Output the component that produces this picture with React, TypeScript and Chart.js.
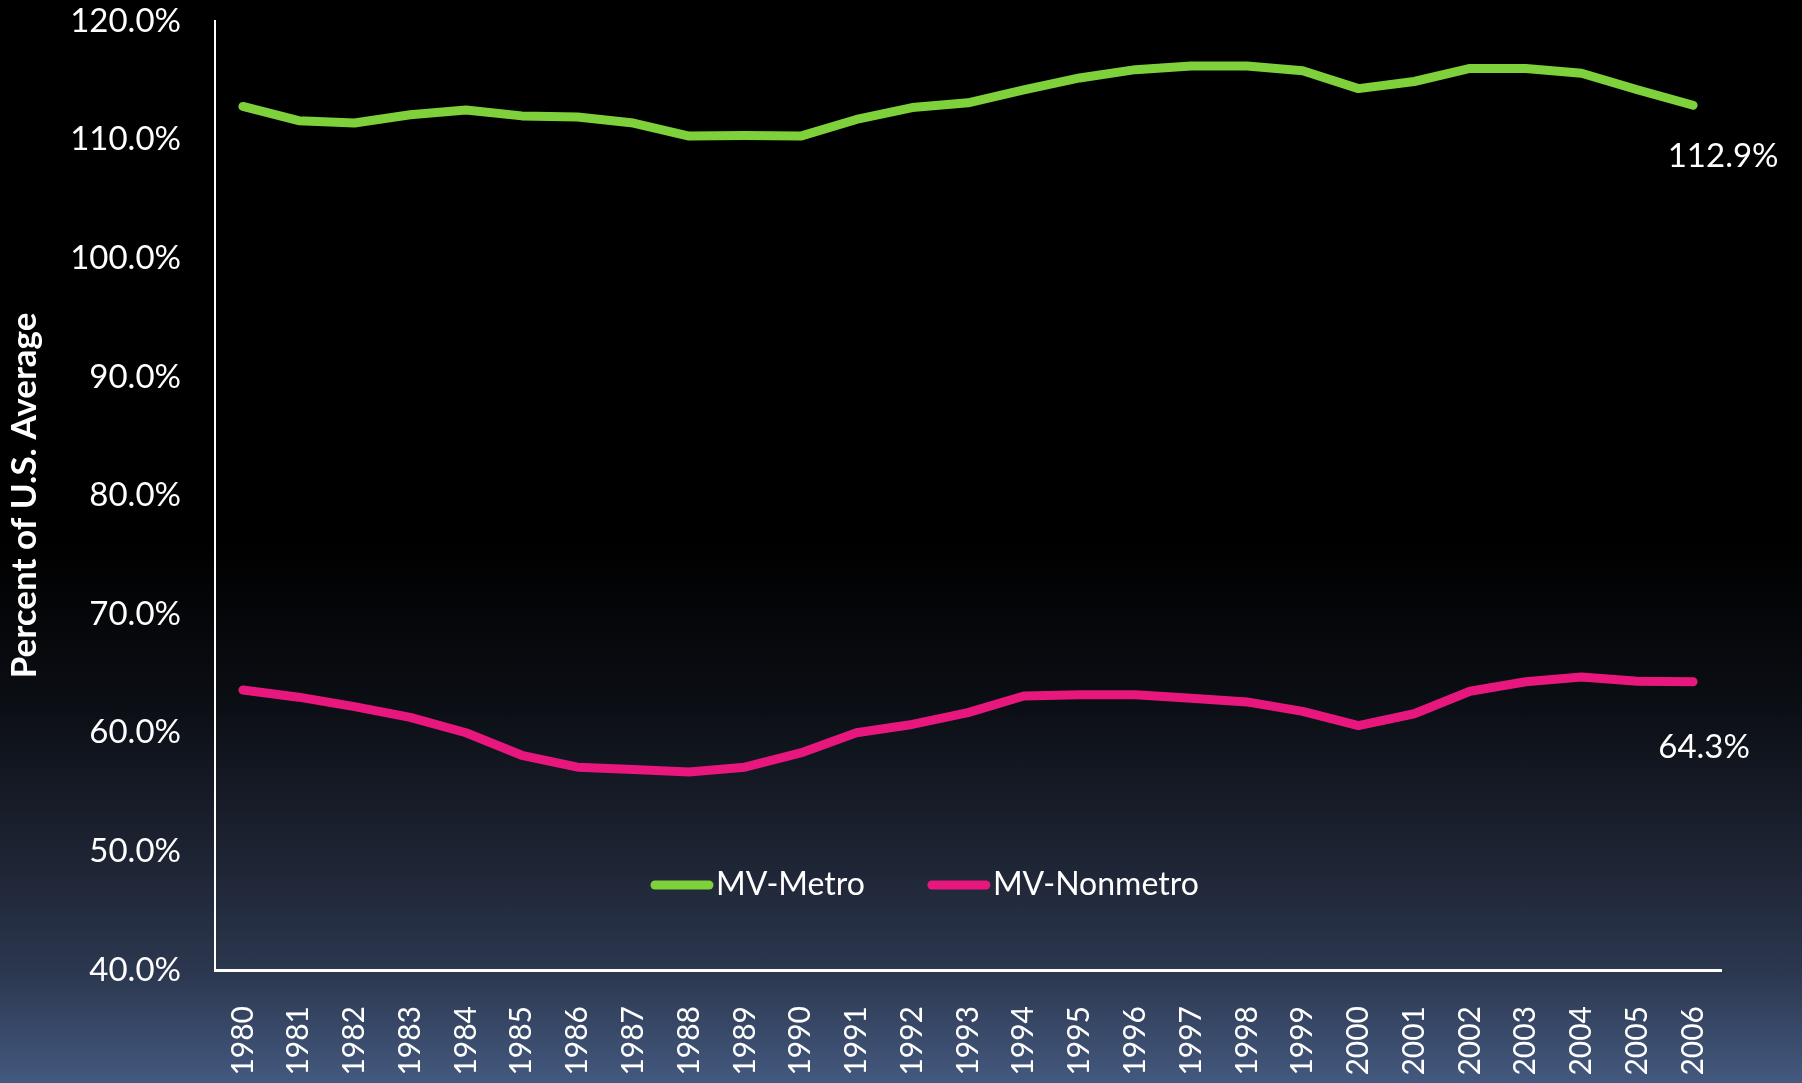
import React, { useEffect, useRef } from "react";
import { Chart, registerables } from "chart.js";

Chart.register(...registerables);

const YEARS = [
  "1980", "1981", "1982", "1983", "1984", "1985", "1986", "1987", "1988",
  "1989", "1990", "1991", "1992", "1993", "1994", "1995", "1996", "1997",
  "1998", "1999", "2000", "2001", "2002", "2003", "2004", "2005", "2006",
];

const METRO = [
  112.8, 111.6, 111.4, 112.1, 112.5, 112.0, 111.9, 111.4, 110.3, 110.35,
  110.3, 111.7, 112.7, 113.1, 114.2, 115.2, 115.9, 116.2, 116.2, 115.8,
  114.3, 114.9, 116.0, 116.0, 115.6, 114.2, 112.9,
];

const NONMETRO = [
  63.6, 63.0, 62.2, 61.3, 60.0, 58.1, 57.1, 56.9, 56.7, 57.1, 58.3, 60.0,
  60.7, 61.7, 63.1, 63.2, 63.2, 62.9, 62.6, 61.8, 60.6, 61.6, 63.5, 64.3,
  64.7, 64.35, 64.3,
];

const SERIES_LABELS = ["MV-Metro", "MV-Nonmetro"];
const SERIES_COLORS = ["#7ed13b", "#e8177e"];
const Y_MIN = 40;
const Y_MAX = 120;
const Y_STEP = 10;
const Y_TITLE = "Percent of U.S. Average";

const FONT = "Lato, 'Open Sans', 'DejaVu Sans', sans-serif";

// end-of-line value labels (offset from last point)
const END_LABEL_OFFSETS = [
  { dx: 30, dy: 51 },
  { dx: 11, dy: 66 },
];

const endLabelPlugin = {
  id: "endLabels",
  afterDatasetsDraw(chart: any) {
    const ctx = chart.ctx;
    ctx.save();
    ctx.font = `33px ${FONT}`;
    ctx.fillStyle = "#ffffff";
    ctx.textAlign = "center";
    ctx.textBaseline = "middle";
    chart.data.datasets.forEach((ds: any, i: number) => {
      const meta = chart.getDatasetMeta(i);
      const last = meta.data[meta.data.length - 1];
      if (!last) return;
      const v = ds.data[ds.data.length - 1];
      const off = END_LABEL_OFFSETS[i] || { dx: 0, dy: 0 };
      ctx.fillText(v.toFixed(1) + "%", last.x + off.dx, last.y + off.dy);
    });
    ctx.restore();
  },
};

const legendPlugin = {
  id: "innerLegend",
  afterDraw(chart: any) {
    const ctx = chart.ctx;
    const area = chart.chartArea;
    ctx.save();
    ctx.font = `32px ${FONT}`;
    ctx.textBaseline = "middle";
    ctx.textAlign = "left";
    let x = area.left + 440;
    const y = area.bottom - 85;
    chart.data.datasets.forEach((ds: any) => {
      ctx.strokeStyle = ds.borderColor;
      ctx.lineWidth = 9;
      ctx.lineCap = "round";
      ctx.beginPath();
      ctx.moveTo(x, y);
      ctx.lineTo(x + 54, y);
      ctx.stroke();
      ctx.fillStyle = "#ffffff";
      ctx.fillText(ds.label, x + 61, y);
      const w = ctx.measureText(ds.label).width;
      x += 61 + w + 67;
    });
    ctx.restore();
  },
};

export default function App() {
  const canvasRef = useRef<HTMLCanvasElement | null>(null);

  useEffect(() => {
    if (!canvasRef.current) return;
    const chart = new Chart(canvasRef.current, {
      type: "line",
      data: {
        labels: YEARS,
        datasets: [
          {
            label: SERIES_LABELS[0],
            data: METRO,
            borderColor: SERIES_COLORS[0],
            backgroundColor: SERIES_COLORS[0],
            borderWidth: 9,
            borderCapStyle: "round",
            borderJoinStyle: "round",
            pointRadius: 0,
            tension: 0,
            fill: false,
          },
          {
            label: SERIES_LABELS[1],
            data: NONMETRO,
            borderColor: SERIES_COLORS[1],
            backgroundColor: SERIES_COLORS[1],
            borderWidth: 9,
            borderCapStyle: "round",
            borderJoinStyle: "round",
            pointRadius: 0,
            tension: 0,
            fill: false,
          },
        ],
      },
      options: {
        responsive: false,
        animation: false,
        layout: { padding: { top: 21, right: 81, left: 0, bottom: 0 } },
        plugins: {
          legend: { display: false },
          tooltip: { enabled: false },
        },
        scales: {
          x: {
            offset: true,
            grid: { display: false, drawTicks: false },
            border: { display: true, color: "#ffffff", width: 3 },
            ticks: {
              autoSkip: false,
              maxRotation: 90,
              minRotation: 90,
              padding: 36,
              color: "#ffffff",
              font: { family: FONT, size: 30 },
            },
            afterFit: (scale: any) => {
              scale.height = 113;
              scale.paddingLeft = 0;
              scale.paddingRight = 0;
            },
          },
          y: {
            min: Y_MIN,
            max: Y_MAX,
            grid: { display: false, drawTicks: false },
            border: { display: true, color: "#ffffff", width: 2 },
            ticks: {
              stepSize: Y_STEP,
              padding: 34,
              color: "#ffffff",
              font: { family: FONT, size: 33 },
              callback: (v: any) => Number(v).toFixed(1) + "%",
            },
            title: {
              display: true,
              text: Y_TITLE,
              color: "#ffffff",
              font: { family: FONT, size: 35, weight: "bold" },
              padding: { top: 4, bottom: 0 },
            },
            afterFit: (scale: any) => {
              scale.width = 215;
              scale.paddingTop = 0;
              scale.paddingBottom = 0;
            },
          },
        },
      },
      plugins: [endLabelPlugin, legendPlugin],
    });
    return () => chart.destroy();
  }, []);

  return (
    <div
      style={{
        position: "absolute",
        left: 0,
        top: 0,
        width: 1802,
        height: 1083,
        background:
          "linear-gradient(to bottom, #000000 0%, #000000 50%, #0b0e14 65%, #1e2535 80%, #2c3850 90%, #44597f 100%)",
      }}
    >
      <canvas ref={canvasRef} width={1802} height={1083} style={{ display: "block" }} />
    </div>
  );
}
